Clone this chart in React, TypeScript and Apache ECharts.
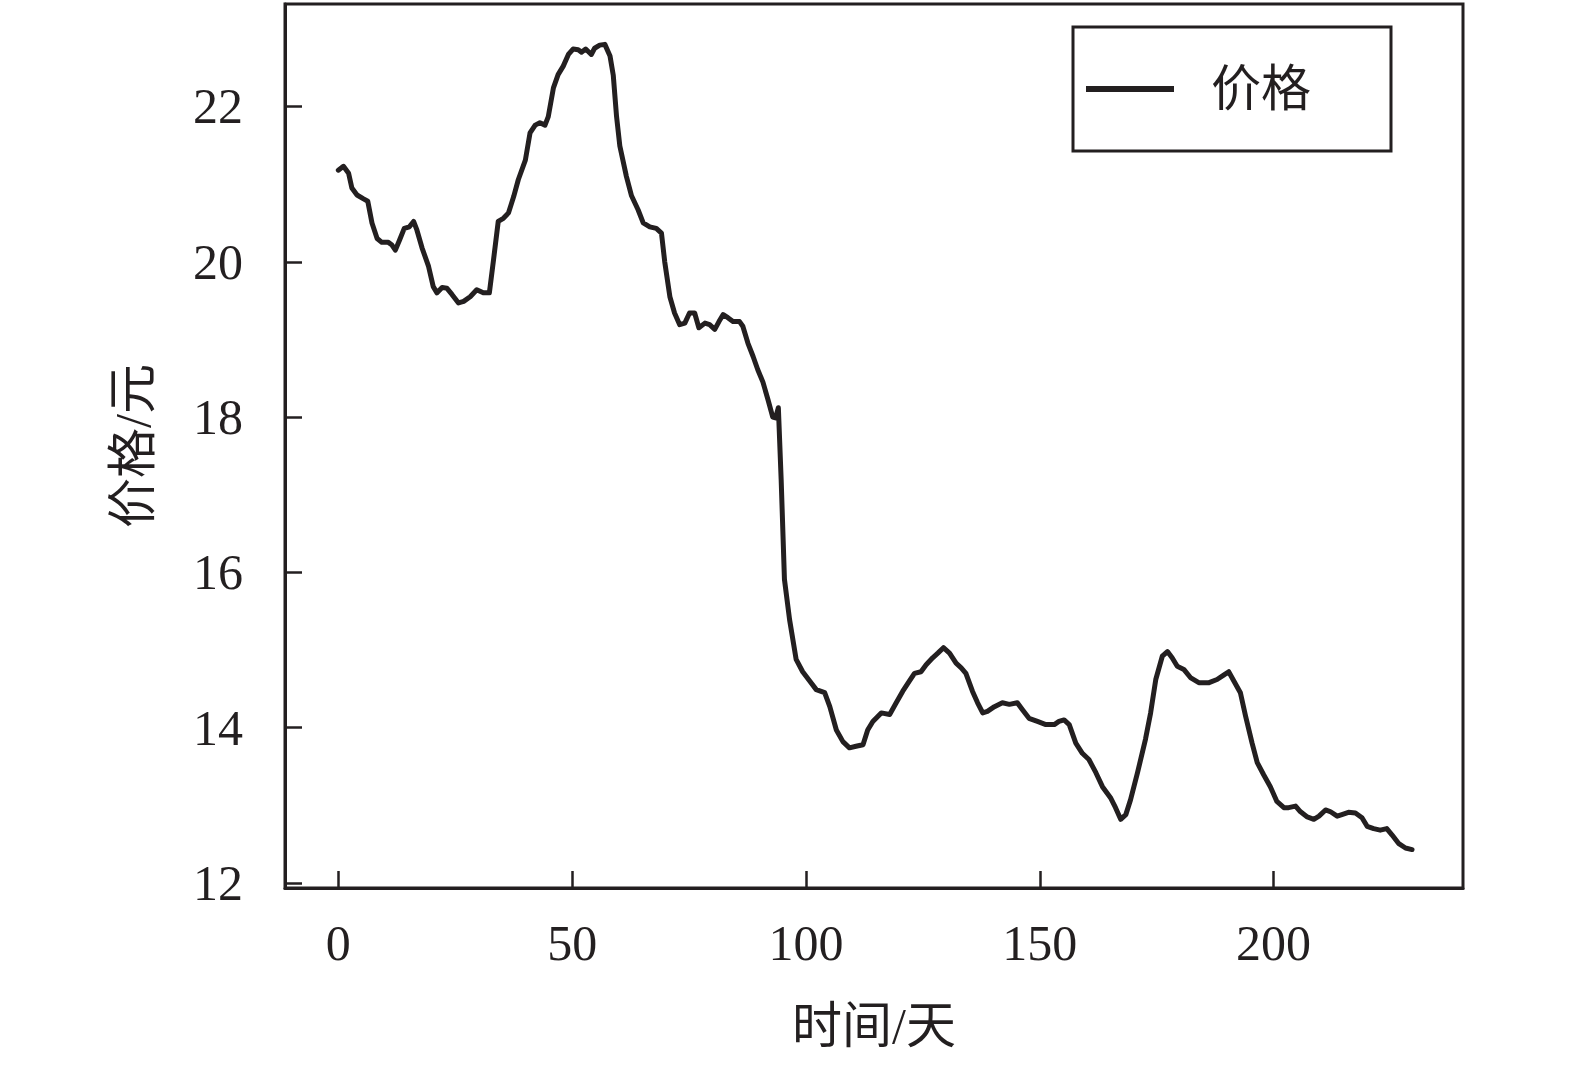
import React, { useEffect, useRef } from "react";
import * as echarts from "echarts";

const seriesName = "价格";
const xAxisName = "时间/天";
const yAxisName = "价格/元";
const xTickValues = [0, 50, 100, 150, 200];
const yTickValues = [12, 14, 16, 18, 20, 22];

const days = [
  0, 1.1, 2.2, 2.9, 4, 5.4, 6.3, 7.2, 8.3, 9.3, 10.7, 11.4, 12.2, 13.1, 14.1, 15.2, 16.1, 16.8, 17.9, 19.3,
  20.3, 21.1, 22.2, 23.2, 24.3, 25.7, 26.8, 28.2, 29.6, 31.0, 32.3, 33.2, 34.2, 35.3, 36.4, 37.5, 38.5, 40.0,
  41.0, 42.1, 43.1, 44.2, 44.9, 46.0, 47.0, 48.1, 49.2, 50.2, 51.3, 52.0, 52.9, 54.1, 54.8, 55.9, 57.0,
  58.1, 58.8, 59.5, 60.2, 61.6, 62.7, 64.1, 65.2, 66.6, 68.0, 69.1, 69.8, 70.9, 71.9, 73.0, 74.1, 75.1,
  76.2, 77.1, 78.4, 79.4, 80.5, 81.4, 82.3, 83.3, 84.4, 85.8, 86.5, 87.6, 88.7, 89.7, 90.8, 91.9, 92.9,
  93.5, 94.1, 94.7, 95.4, 96.5, 97.9, 99.3, 100.8, 102.2, 104.0, 105.1, 106.5, 107.9, 109.3, 110.7, 112.2,
  113.2, 114.3, 116.1, 117.9, 119.3, 120.7, 122.1, 123.2, 124.6, 125.7, 127.1, 128.2, 129.4, 130.7, 132.1,
  133.2, 134.2, 135.6, 136.7, 137.8, 138.8, 140.3, 142.0, 143.5, 145.2, 146.3, 147.7, 149.5, 151.3, 153.1,
  154.1, 155.2, 156.3, 157.7, 159.1, 160.5, 162.0, 163.4, 165.2, 166.2, 167.3, 168.4, 169.4, 170.9, 172.6,
  173.7, 174.8, 176.2, 177.3, 178.3, 179.4, 180.8, 182.3, 184.0, 186.2, 187.9, 189.4, 190.4, 191.5, 192.9,
  194.0, 195.4, 196.5, 197.9, 199.3, 200.7, 202.2, 203.2, 204.7, 205.7, 207.2, 208.6, 209.7, 211.1, 212.1,
  213.6, 214.6, 216.0, 217.5, 218.9, 220.0, 221.4, 222.8, 224.2, 225.3, 226.7, 228.2, 229.6,
];

const prices = [
  21.18, 21.23, 21.14, 20.95, 20.86, 20.81, 20.78, 20.5, 20.3, 20.25, 20.25, 20.22, 20.15, 20.28, 20.43, 20.45,
  20.52, 20.41, 20.18, 19.94, 19.68, 19.6, 19.67, 19.66, 19.58, 19.47, 19.49, 19.55, 19.64, 19.6, 19.6, 20.03,
  20.52, 20.56, 20.63, 20.84, 21.06, 21.31, 21.66, 21.76, 21.79, 21.76, 21.87, 22.24, 22.41, 22.52, 22.67,
  22.74, 22.73, 22.7, 22.74, 22.67, 22.75, 22.79, 22.8,
  22.65, 22.4, 21.87, 21.49, 21.1, 20.85, 20.67, 20.5, 20.45, 20.43, 20.37, 20.0, 19.55, 19.34, 19.19, 19.21,
  19.34, 19.34, 19.15, 19.21, 19.19, 19.13, 19.23, 19.32, 19.28, 19.23, 19.23, 19.17, 18.95, 18.78, 18.61,
  18.45, 18.22, 18.0, 17.99, 18.12,
  17.19, 15.91, 15.39, 14.88, 14.72, 14.6, 14.49, 14.45, 14.27, 13.97, 13.82, 13.74, 13.76, 13.78, 13.97,
  14.08, 14.19, 14.17, 14.32, 14.47, 14.6, 14.7, 14.72, 14.81, 14.9, 14.96, 15.03, 14.96, 14.83, 14.77,
  14.7, 14.47, 14.32, 14.19, 14.21, 14.27, 14.32, 14.3, 14.32, 14.23, 14.12, 14.08, 14.04, 14.04, 14.08,
  14.1, 14.04,
  13.8, 13.67, 13.59, 13.42, 13.24, 13.09, 12.97, 12.82, 12.88, 13.07, 13.42, 13.85, 14.19, 14.62, 14.92,
  14.98, 14.9, 14.79, 14.75, 14.64, 14.58, 14.58, 14.62, 14.68, 14.72, 14.6, 14.45, 14.15, 13.8, 13.55,
  13.39, 13.24, 13.05, 12.97, 12.97, 12.99, 12.92, 12.85, 12.82, 12.86, 12.94, 12.92, 12.86, 12.88, 12.91,
  12.9, 12.84, 12.73, 12.7, 12.68, 12.7, 12.62, 12.51, 12.45, 12.43,
];

const INK = "#231f20";
const FONT = "'Liberation Serif', 'Times New Roman', 'Noto Sans CJK SC', serif";

export default function App() {
  const ref = useRef<HTMLDivElement>(null);
  useEffect(() => {
    if (!ref.current) return;
    const chart = echarts.init(ref.current, undefined, { renderer: "svg" });
    const data = days.map((d, i) => [d, prices[i]]);
    chart.setOption({
      animation: false,
      backgroundColor: "#ffffff",
      textStyle: { fontFamily: FONT },
      grid: {
        left: 285,
        top: 4,
        width: 1178,
        height: 884,
        show: true,
        borderColor: INK,
        borderWidth: 3,
        containLabel: false,
      },
      legend: {
        left: 1073,
        top: 27,
        orient: "horizontal",
        backgroundColor: "#fff",
        borderColor: INK,
        borderWidth: 3,
        borderRadius: 0,
        padding: [37, 80, 37, 13],
        icon: "rect",
        itemWidth: 88,
        itemHeight: 6,
        textStyle: {
          fontFamily: FONT,
          fontSize: 50,
          color: INK,
          lineHeight: 50,
          padding: [0, 0, 0, 32],
        },
        data: [seriesName],
      },
      xAxis: {
        type: "value",
        min: -11.4,
        max: 240.5,
        name: xAxisName,
        nameLocation: "middle",
        nameGap: 113,
        nameTextStyle: { fontFamily: FONT, fontSize: 50, color: INK },
        axisLine: { show: true, onZero: false, lineStyle: { color: INK, width: 3 } },
        axisTick: {
          show: true,
          inside: true,
          length: 17,
          lineStyle: { color: INK, width: 2.5 },
          customValues: xTickValues,
        },
        axisLabel: {
          show: true,
          margin: 30,
          fontFamily: FONT,
          fontSize: 50,
          color: INK,
          customValues: xTickValues,
        },
        splitLine: { show: false },
      },
      yAxis: {
        type: "value",
        min: 11.935,
        max: 23.32,
        name: yAxisName,
        nameLocation: "middle",
        nameRotate: 90,
        nameGap: 127,
        nameTextStyle: { fontFamily: FONT, fontSize: 50, color: INK },
        axisLine: { show: true, onZero: false, lineStyle: { color: INK, width: 3 } },
        axisTick: {
          show: true,
          inside: true,
          length: 17,
          lineStyle: { color: INK, width: 2.5 },
          customValues: yTickValues,
        },
        axisLabel: {
          show: true,
          margin: 42,
          fontFamily: FONT,
          fontSize: 50,
          color: INK,
          customValues: yTickValues,
        },
        splitLine: { show: false },
      },
      series: [
        {
          name: seriesName,
          type: "line",
          data,
          showSymbol: false,
          symbol: "none",
          smooth: false,
          itemStyle: { color: INK },
          lineStyle: { color: INK, width: 5, join: "round", cap: "round" },
        },
      ],
    });
    return () => chart.dispose();
  }, []);
  return (
    <div
      ref={ref}
      style={{ position: "absolute", left: 0, top: 0, width: 1575, height: 1068, background: "#fff" }}
    />
  );
}
